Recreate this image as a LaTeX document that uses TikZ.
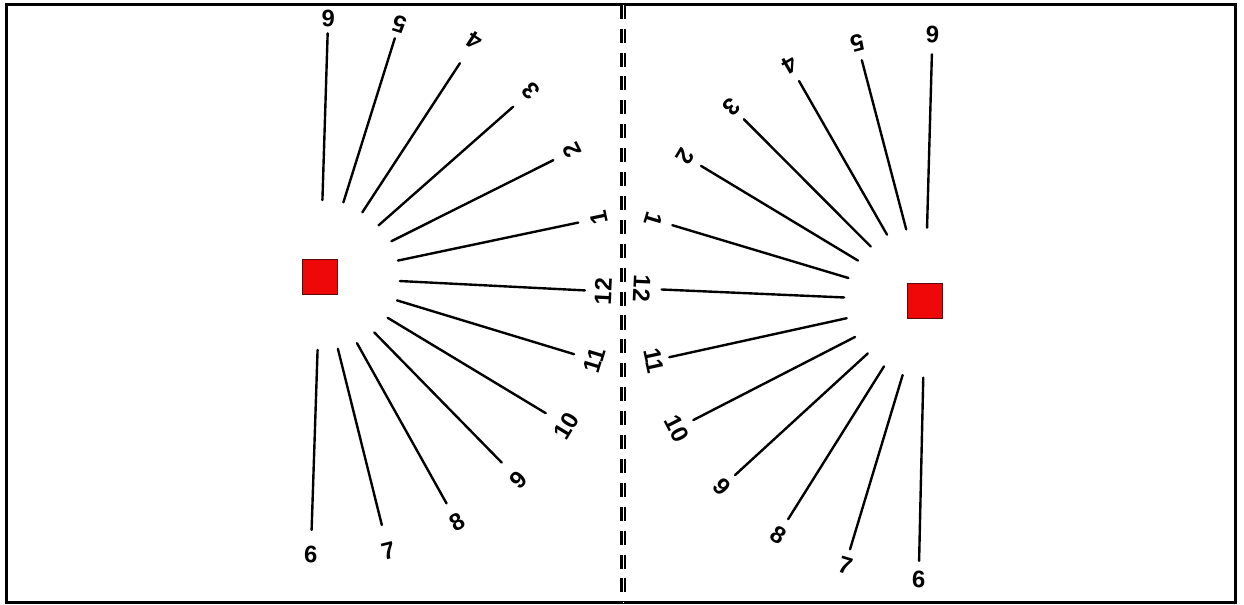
\documentclass[tikz,border=0pt]{standalone}
\usepackage{fontspec}
\setmainfont{Liberation Sans}
\usepackage{tikz}
\usetikzlibrary{positioning, calc}
\definecolor{boxred}{RGB}{238,8,8}
\definecolor{boxedge}{RGB}{90,10,10}

\begin{document}
\begin{tikzpicture}[x=0.025cm, y=0.025cm,
      frame/.style={draw, line width=2.2pt},
      divider/.style={draw, line width=1.5pt, double distance=1.2pt, dash pattern=on 10pt off 7pt},
      spoke/.style={line width=1.7pt, line cap=round},
      marker/.style={rectangle, draw=boxedge, fill=boxred, line width=0.8pt, minimum size=0.86cm, inner sep=0pt},
      num/.style={font=\bfseries\fontsize{17}{19}\selectfont, inner sep=0pt}]
    \useasboundingbox (0,0) rectangle (1244,605);
    \draw[frame] (6.7,2.5) rectangle (1235.5,600.3);
    \coordinate (divtop) at (623.4,600.3); \coordinate (divbot) at (623.4,2.5);
    \draw[divider] (divtop) -- (divbot);
    \node[marker] (lsq) at (320,328) {};
    \node[marker] (rsq) at (925,304) {};
    \foreach \a/\ri/\ro/\rl/\lbl [count=\i] in {88.2/77/243.8/259.1/6, 72.6/78.2/250.2/265.3/5,
        56.8/77.3/255.5/282.6/4, 41.4/78/257.6/281.2/3, 26.6/79.9/261/281.9/2,
        11.9/79.6/264/285.7/1, -2.9/80/265.3/283.5/12, -16.9/80.4/265.5/286.8/11,
        -31.1/79/263.7/288/10, -45.6/77.6/259.8/283.8/9, -60.8/75.8/259.4/281.1/8,
        -76/74/255.6/282.5/7, -91.9/73/253.1/278/6}{
      \coordinate (lin\i) at ($(lsq.center)+(\a:\ri)$);
      \coordinate (lout\i) at ($(lsq.center)+(\a:\ro)$);
      \node[num, rotate=\a+90] (llab\i) at ($(lsq.center)+(\a:\rl)$) {\lbl};
      \draw[spoke] (lin\i) -- (lout\i);
    }
    \foreach \a/\ri/\ro/\rl/\lbl [count=\i] in {88.4/73.3/246.8/266.7/6, 104.7/74/248.9/267.2/5,
        119.8/76.4/253.5/272.5/4, 134.9/77/256.5/273.4/3, 148.9/78.3/261.5/279.5/2,
        163.3/80/263.8/283.7/1, 177.5/81/263.6/283.5/12, 192.4/80.2/261.8/277.7/11,
        207.2/78.7/260.5/278.5/10, 222.5/77.5/257.6/274.9/9, 237.9/77.2/257.6/276.1/8,
        253.2/77.3/259.4/275.9/7, 268.7/76.7/260/278.4/6}{
      \coordinate (rin\i) at ($(rsq.center)+(\a:\ri)$);
      \coordinate (rout\i) at ($(rsq.center)+(\a:\ro)$);
      \node[num, rotate=\a+90] (rlab\i) at ($(rsq.center)+(\a:\rl)$) {\lbl};
      \draw[spoke] (rin\i) -- (rout\i);
    }
  \end{tikzpicture}
\end{document}
